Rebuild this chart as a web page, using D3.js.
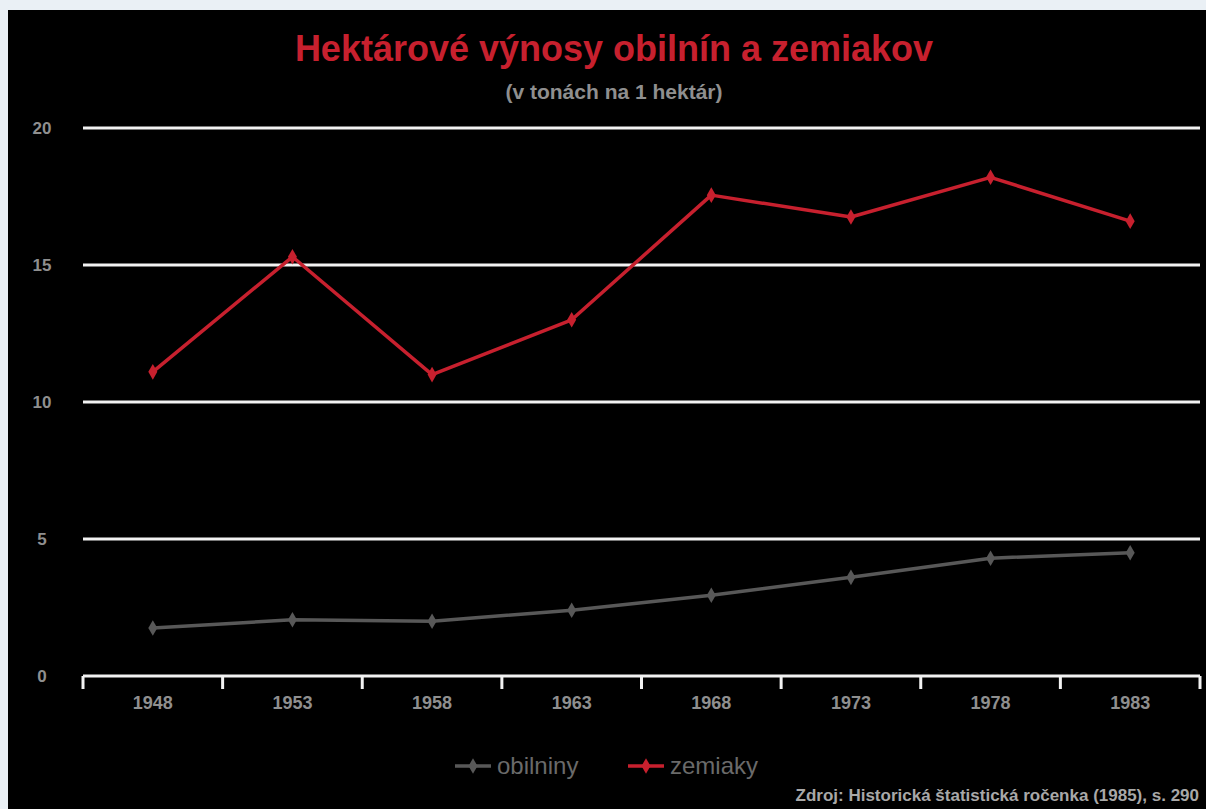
<!DOCTYPE html>
<html><head><meta charset="utf-8">
<script src="https://cdn.jsdelivr.net/npm/d3@7"></script>
<style>
html,body{margin:0;padding:0;background:#eaf0f5;}
svg{display:block;}
text{font-family:"Liberation Sans",Arial,sans-serif;}
</style></head>
<body>
<svg id="chart" width="1206" height="809"></svg>
<script>
const years = ["1948","1953","1958","1963","1968","1973","1978","1983"];
const obilniny = [1.75, 2.05, 2.0, 2.4, 2.95, 3.6, 4.3, 4.5];
const zemiaky = [11.1, 15.3, 11.0, 13.0, 17.55, 16.75, 18.2, 16.6];
const yTicks = [0, 5, 10, 15, 20];
const seriesNames = ["obilniny", "zemiaky"];
const seriesColors = ["#585858", "#c7202e"];
const title = "Hektárové výnosy obilnín a zemiakov";
const subtitle = "(v tonách na 1 hektár)";
const source = "Zdroj: Historická štatistická ročenka (1985), s. 290";

(function () {
const svg = d3.select("#chart");
svg.append("rect").attr("x", 8).attr("y", 10).attr("width", 1198).attr("height", 799).attr("fill", "#000");

const pLeft = 83, pRight = 1200, pTop = 128, pBottom = 676;
const x = d3.scaleBand().domain(years).range([pLeft, pRight]).padding(0);
const y = d3.scaleLinear().domain([0, 20]).range([pBottom, pTop]);

// gridlines
svg.append("g").selectAll("line").data(yTicks.filter(d => d > 0)).join("line")
  .attr("x1", pLeft).attr("x2", pRight)
  .attr("y1", d => y(d)).attr("y2", d => y(d))
  .attr("stroke", "#f2f2f2").attr("stroke-width", 3);

// y labels
svg.append("g").selectAll("text").data(yTicks).join("text")
  .attr("x", 42).attr("y", d => y(d) + 6)
  .attr("text-anchor", "middle")
  .attr("fill", "#8f8f8f").attr("font-size", 17).attr("font-weight", "bold")
  .text(d => d);

// x axis
const xAxis = d3.axisBottom(x).tickSize(0).tickPadding(0).tickFormat(d => d);
const gx = svg.append("g").attr("transform", `translate(0,${pBottom})`).call(xAxis);
gx.select(".domain").remove();
gx.selectAll("text").attr("dy", 0).attr("y", 33)
  .attr("fill", "#8f8f8f").attr("font-size", 18).attr("font-weight", "bold")
  .attr("font-family", "Liberation Sans, Arial, sans-serif");
svg.append("line").attr("x1", pLeft).attr("x2", pRight).attr("y1", pBottom).attr("y2", pBottom)
  .attr("stroke", "#f2f2f2").attr("stroke-width", 3);
const bounds = years.map(d => x(d)).concat([pRight]);
svg.append("g").selectAll("line").data(bounds).join("line")
  .attr("x1", d => d).attr("x2", d => d)
  .attr("y1", pBottom).attr("y2", pBottom + 13)
  .attr("stroke", "#f2f2f2").attr("stroke-width", 3);

const cx = d => x(d) + x.bandwidth() / 2;
const diamond = d3.symbol().type(d3.symbolDiamond).size(70);

[obilniny, zemiaky].forEach((vals, i) => {
  const data = years.map((yr, j) => ({ yr, v: vals[j] }));
  svg.append("path").datum(data)
    .attr("fill", "none").attr("stroke", seriesColors[i]).attr("stroke-width", 3.5)
    .attr("stroke-linejoin", "round")
    .attr("d", d3.line().x(d => cx(d.yr)).y(d => y(d.v)));
  svg.append("g").selectAll("path").data(data).join("path")
    .attr("d", diamond)
    .attr("transform", d => `translate(${cx(d.yr)},${y(d.v)})`)
    .attr("fill", seriesColors[i]);
});

// title
svg.append("text").attr("x", 614).attr("y", 61).attr("text-anchor", "middle")
  .attr("fill", "#c7202e").attr("font-size", 36).attr("font-weight", "bold").text(title);
svg.append("text").attr("x", 614).attr("y", 99).attr("text-anchor", "middle")
  .attr("fill", "#8f8f8f").attr("font-size", 21).attr("font-weight", "bold").text(subtitle);

// legend
const legendX = [455, 628];
seriesNames.forEach((n, i) => {
  const g = svg.append("g").attr("transform", `translate(${legendX[i]},766)`);
  g.append("line").attr("x1", 0).attr("x2", 36).attr("y1", 0).attr("y2", 0)
    .attr("stroke", seriesColors[i]).attr("stroke-width", 3.5);
  g.append("path").attr("d", diamond).attr("transform", "translate(18,0)").attr("fill", seriesColors[i]);
  g.append("text").attr("x", 42).attr("y", 8).attr("fill", "#6a6a6a").attr("font-size", 24).text(n);
});

// source
svg.append("text").attr("x", 1199).attr("y", 801).attr("text-anchor", "end")
  .attr("fill", "#a8a8a8").attr("font-size", 17).attr("font-weight", "bold").text(source);
})();
</script>
</body></html>
